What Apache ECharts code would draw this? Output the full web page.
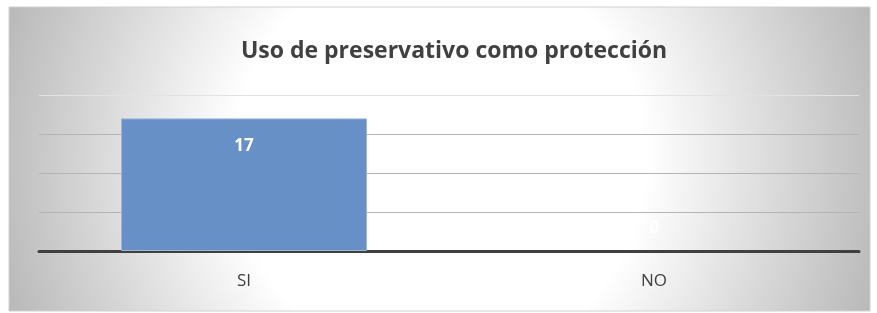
<!DOCTYPE html>
<html>
<head>
<meta charset="utf-8">
<script src="https://cdn.jsdelivr.net/npm/echarts@6/dist/echarts.min.js"></script>
<style>
  html, body { margin: 0; padding: 0; background: #fff; }
  #chart { width: 877px; height: 313px; }
</style>
</head>
<body>
<div id="chart"></div>
<script>
const categories = ['SI', 'NO'];
const values = [17, 0];
const yMin = 0;
const yMax = 20;
const yStep = 5;

const chart = echarts.init(document.getElementById('chart'));

chart.setOption({
  backgroundColor: '#ffffff',
  animation: false,
  textStyle: { fontFamily: 'Open Sans' },
  graphic: [{
    type: 'rect',
    z: -10,
    silent: true,
    shape: { x: 9, y: 7, width: 861, height: 304 },
    style: {
      fill: new echarts.graphic.RadialGradient(0.5, 0.5, 1.5, [
        { offset: 0, color: '#ffffff' },
        { offset: 0.45, color: '#ffffff' },
        { offset: 1, color: '#b8b8b8' }
      ]),
      stroke: '#d0d0d0',
      lineWidth: 1
    }
  }],
  title: {
    text: 'Uso de preservativo como protección',
    left: 449,
    top: 35,
    textAlign: 'center',
    textStyle: { fontSize: 23, fontWeight: 'bold', color: '#404040', fontFamily: 'Open Sans' }
  },
  grid: { left: 39, right: 18, top: 95, bottom: 62 },
  xAxis: {
    type: 'category',
    data: categories,
    axisLine: { lineStyle: { color: '#404040', width: 3 } },
    axisTick: { show: false },
    axisLabel: { fontSize: 17, color: '#404040', margin: 22 }
  },
  yAxis: {
    type: 'value',
    min: yMin,
    max: yMax,
    interval: yStep,
    axisLabel: { show: false },
    axisLine: { show: false },
    axisTick: { show: false },
    splitLine: { lineStyle: { color: ['#b4b4b4', '#b4b4b4', '#b4b4b4', '#b4b4b4', '#e2e2e2'], width: 1 } }
  },
  series: [{
    type: 'bar',
    data: values.map(v => v === 0
      ? { value: v, itemStyle: { borderWidth: 0 }, label: { position: 'top', distance: 14 } }
      : v),
    barWidth: '60%',
    itemStyle: { color: '#6690c6', borderColor: '#9db5da', borderWidth: 1 },
    label: {
      show: true,
      position: 'insideTop',
      distance: 19,
      color: '#ffffff',
      fontSize: 17,
      fontWeight: 'bold'
    }
  }]
});
</script>
</body>
</html>
